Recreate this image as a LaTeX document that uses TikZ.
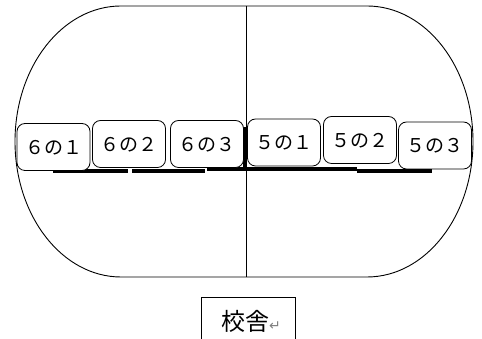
\documentclass[tikz,border=0pt]{standalone}
\usepackage{fontspec}
\newfontfamily\jpfont{Noto Sans CJK JP}
\newfontfamily\symfont{DejaVu Sans}
\begin{document}
\begin{tikzpicture}[x=1pt,y=1pt,
  cls/.style={draw=black,line width=0.8pt,rounded corners=8pt,minimum width=73pt,minimum height=47pt,inner sep=0pt,text depth=-1pt,font=\jpfont\fontsize{19}{19}\selectfont},
  bar/.style={line width=3.5pt,line cap=butt},
  outline/.style={line width=0.9pt}]
\useasboundingbox (0,0) rectangle (482,339);
% stadium outline
\draw[outline] (121,333) -- (367,333)
  arc[start angle=90,end angle=-90,x radius=106,y radius=135.5]
  -- (121,62)
  arc[start angle=270,end angle=90,x radius=106,y radius=135.5] -- cycle;
\draw[outline] (246,333) -- (246,62);
% thick bars
\draw[bar] (53,168) -- (128,168);
\draw[bar] (132,168) -- (205,168);
\draw[bar] (207,170) -- (357,170);
\draw[bar] (357,168) -- (432,168);
\draw[line width=4pt] (245,212) -- (245,170);
% classroom boxes
\node[cls,fill=white] (c1) at (53.5,192) {６の１};
\node[cls,fill=white] (c2) at (129,195) {６の２};
\node[cls,fill=white] (c3) at (207,195) {６の３};
\node[cls,fill=white] (c4) at (284,196.5) {５の１};
\node[cls,fill=white] (c5) at (360,199) {５の２};
\node[cls,fill=white] (c6) at (435,193.5) {５の３};
% school building label
\draw[outline] (201,-2) |- (295,42) -- (295,-2);
\node[inner sep=0pt] (school) at (251,18) {\jpfont\fontsize{24}{24}\selectfont 校舎\textcolor{gray}{\symfont\fontsize{14}{14}\selectfont ↵}};
\end{tikzpicture}
\end{document}
